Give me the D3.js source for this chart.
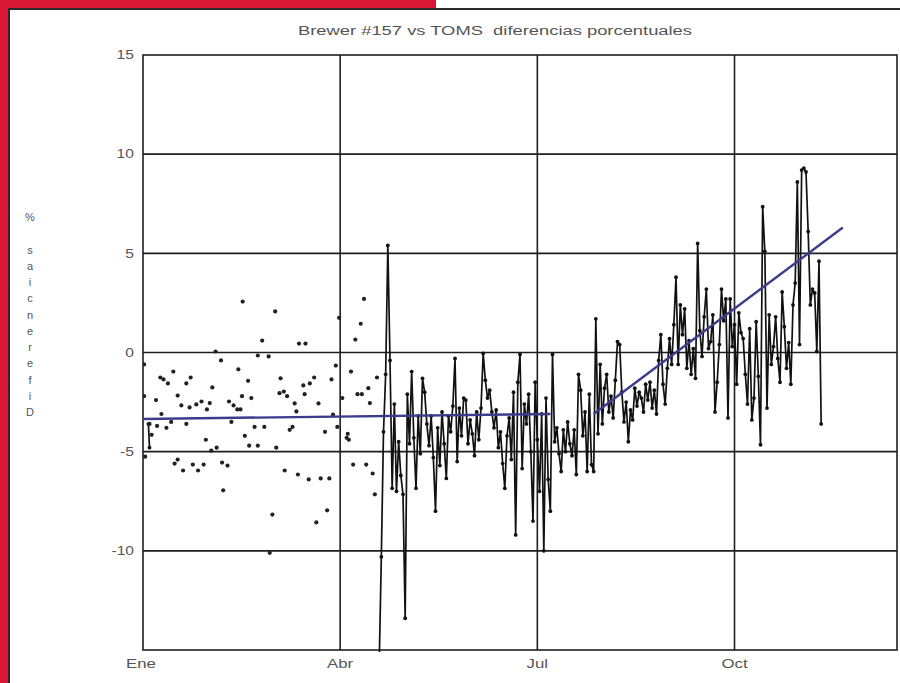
<!DOCTYPE html>
<html>
<head>
<meta charset="utf-8">
<script src="https://cdn.jsdelivr.net/npm/d3@7"></script>
<style>
  body { margin: 0; background: #fff; }
  svg { display: block; }
  text { font-family: "Liberation Sans", Arial, sans-serif; fill: #555; white-space: pre; }
</style>
</head>
<body>
<div id="chart"></div>
<script>
// Month ticks (day of year) and labels
var monthDays = [0, 91, 182, 273];
var monthLabels = ["Ene", "Abr", "Jul", "Oct"];
var yTicks = [-10, -5, 0, 5, 10, 15];

// Scattered daily points, Jan - Apr
var scatterDays = [46, 61, 55, 72, 75, 33.5, 53, 58, 36, 89, 44, 14, 8, 9.5, 11.5, 22, 20, 63.5, 79, 87,
    48.5, 74, 77, 32, 63, 65, 66.5, 74.6, 16, 45.7, 50, 6, 27, 24.6, 21.5, 17.7, 30.8, 29.5, 39.7, 41.8,
    43.5, 45, 70, 81, 70.8, 8.5, 87.7, 3, 6.5, 10.8, 13, 20, 40.8, 51.5, 56, 67.7, 69, 89.7, 84, 4,
    47, 29, 49, 53, 61.5, 31.5, 34, 1, 14.6, 16, 18.5, 23, 25.4, 28, 36.5, 39, 65.4, 71.5, 76.5, 82,
    86, 37, 85, 59.7, 80, 58.5, 90.5, 92, 94.5, 96, 97, 103, 106, 107, 102, 100.5, 98, 108, 104, 99,
    101, 104.7, 94, 95, 0.5, 0.5];
var scatterVals = [2.57, 2.07, 0.6, 0.45, 0.45, 0.05, -0.15, -0.2, -0.4, -0.66, -0.85, -0.96, -1.26, -1.36, -1.56, -1.26, -1.56, -1.3, -1.26, -1.36,
    -1.43, -1.66, -1.56, -1.76, -2.05, -1.97, -2.2, -2.1, -2.17, -2.2, -2.3, -2.4, -2.47, -2.62, -2.77, -2.67, -2.55, -2.87, -2.47, -2.67,
    -2.87, -2.87, -2.57, -2.57, -2.97, -3.1, -3.13, -3.6, -3.7, -3.8, -3.5, -3.6, -3.5, -3.75, -3.75, -3.9, -3.75, -3.75, -4.0, -4.15,
    -4.2, -4.4, -4.7, -4.7, -4.8, -4.95, -4.8, -5.25, -5.6, -5.4, -5.95, -5.65, -5.95, -5.65, -5.55, -5.7, -5.95, -6.15, -6.4, -6.35,
    -6.35, -6.95, -7.96, -8.17, -8.57, -10.1, 1.75, -2.3, -4.1, -0.96, -5.65, -5.65, -6.1, -7.15, 2.7, 1.45, 0.65, -1.26, -1.8, -2.1,
    -2.1, -2.55, -4.3, -4.4, -0.6, -2.2];

// Short joined segment at the very start of the year
var startDays = [2.5, 3];
var startVals = [-3.6, -4.8];

// Joined daily series, late April - mid November
var lineDays = [109, 110, 111, 112, 113, 114, 115, 116, 117, 118, 119, 120, 121, 122, 123, 124, 125, 126, 127, 128,
    129, 130, 131, 132, 133, 134, 135, 136, 137, 138, 139, 140, 141, 142, 143, 144, 145, 146, 147, 148,
    149, 150, 151, 152, 153, 154, 155, 156, 157, 158, 159, 160, 161, 162, 163, 164, 165, 166, 167, 168,
    169, 170, 171, 172, 173, 174, 175, 176, 177, 178, 179, 180, 181, 182, 183, 184, 185, 186, 187, 188,
    189, 190, 191, 192, 193, 194, 195, 196, 197, 198, 199, 200, 201, 202, 203, 204, 205, 206, 207, 208,
    209, 210, 211, 212, 213, 214, 215, 216, 217, 218, 219, 220, 221, 222, 223, 224, 225, 226, 227, 228,
    229, 230, 231, 232, 233, 234, 235, 236, 237, 238, 239, 240, 241, 242, 243, 244, 245, 246, 247, 248,
    249, 250, 251, 252, 253, 254, 255, 256, 257, 258, 259, 260, 261, 262, 263, 264, 265, 266, 267, 268,
    269, 270, 271, 272, 273, 274, 275, 276, 277, 278, 279, 280, 281, 282, 283, 284, 285, 286, 287, 288,
    289, 290, 291, 292, 293, 294, 295, 296, 297, 298, 299, 300, 301, 302, 303, 304, 305, 306, 307, 308,
    309, 310, 311, 312, 313];
var lineVals = [-15.8, -10.3, -4.0, -1.1, 5.4, -0.4, -6.85, -2.6, -7.0, -4.5, -6.2, -7.15, -13.4, -2.1, -4.6, -0.96, -4.3, -6.85, -3.2, -5.1,
    -1.3, -2.0, -3.6, -4.7, -3.2, -5.3, -8.0, -3.8, -5.7, -3.0, -4.6, -6.35, -3.2, -4.0, -2.7, -0.3, -5.5, -2.8, -4.2, -2.3,
    -2.4, -4.6, -3.4, -4.1, -5.2, -3.0, -4.4, -2.8, -0.05, -1.4, -2.3, -1.9, -3.0, -3.8, -2.9, -4.8, -4.0, -5.6, -6.85, -4.2,
    -3.3, -5.4, -2.0, -9.2, -1.5, -0.1, -5.85, -2.6, -3.6, -2.1, -5.0, -8.5, -1.5, -4.4, -7.0, -3.1, -10.0, -2.3, -6.4, -8.0,
    -0.1, -4.5, -3.8, -5.1, -6.0, -3.9, -5.0, -3.5, -4.6, -5.2, -3.9, -6.15, -1.1, -1.9, -4.2, -3.0, -6.0, -2.1, -5.65, -6.0,
    1.7, -4.1, -0.6, -3.6, -1.8, -1.1, -3.0, -2.2, -3.3, -1.4, 0.55, 0.4, -2.0, -3.5, -2.5, -4.5, -2.9, -3.4, -1.8, -2.7,
    -2.0, -2.3, -3.0, -1.6, -2.4, -1.5, -2.8, -1.9, -3.1, -0.4, 0.9, -1.6, -2.6, -0.8, 0.7, -0.6, 1.4, 3.8, -0.6, 2.4,
    0.9, 2.2, -0.8, 0.6, -1.1, 0.2, -1.3, 5.5, 1.1, -0.2, 1.8, 3.2, 0.2, 0.55, 1.9, -3.0, -1.5, 0.4, 3.2, 1.6,
    2.7, -3.3, 2.7, 0.3, 1.4, -1.6, 2.0, 1.0, 0.7, -1.1, -2.6, 1.2, -3.4, -2.3, 1.55, -1.2, -4.65, 7.35, 5.1, -2.8,
    1.9, -0.6, 0.3, 1.8, -0.3, -1.5, 3.05, 1.3, -0.8, 0.5, -1.6, 2.4, 3.5, 8.6, 0.4, 9.2, 9.3, 9.1, 6.1, 2.4,
    3.2, 3.0, 0.05, 4.6, -3.6];

// Fitted trend lines (end points)
var trend1Days = [0, 188];
var trend1Vals = [-3.35, -3.1];
var trend2Days = [208, 323];
var trend2Vals = [-3.1, 6.3];

// Svg dimensions and plot box
var svgWidth = 900;
var svgHeight = 683;
var plot = { left: 143, right: 897, top: 55, bottom: 650 };

var svg = d3.select("#chart")
    .append("svg")
    .attr("width", svgWidth)
    .attr("height", svgHeight);

// Page frame: red band and dark rule
svg.append("rect").attr("x", 0).attr("y", 0).attr("width", 8).attr("height", svgHeight).attr("fill", "#d81736");
svg.append("rect").attr("x", 0).attr("y", 0).attr("width", 436).attr("height", 8).attr("fill", "#d81736");
svg.append("line").attr("x1", 9).attr("x2", 9).attr("y1", 8).attr("y2", svgHeight)
    .attr("stroke", "#2b2b2b").attr("stroke-width", 2);
svg.append("line").attr("x1", 8).attr("x2", svgWidth).attr("y1", 9).attr("y2", 9)
    .attr("stroke", "#2b2b2b").attr("stroke-width", 2);

// Scales
var x = d3.scaleLinear().domain([0, 348]).range([plot.left, plot.right]);
var y = d3.scaleLinear().domain([-15, 15]).range([plot.bottom, plot.top]);

// Stretch text horizontally like the wide original face
function stretch(sel, factor) {
    sel.each(function() {
        var w = this.getComputedTextLength();
        d3.select(this).attr("textLength", w * factor).attr("lengthAdjust", "spacingAndGlyphs");
    });
}

// Grid lines
var grid = svg.append("g").attr("stroke", "#1e1e1e").attr("stroke-width", 1.6);
grid.selectAll(".hgrid")
    .data([-10, -5, 0, 5, 10])
    .enter()
    .append("line")
    .attr("x1", plot.left).attr("x2", plot.right)
    .attr("y1", d => y(d)).attr("y2", d => y(d));
grid.selectAll(".vgrid")
    .data(monthDays.slice(1))
    .enter()
    .append("line")
    .attr("x1", d => x(d)).attr("x2", d => x(d))
    .attr("y1", plot.top).attr("y2", plot.bottom);
grid.append("rect")
    .attr("x", plot.left).attr("y", plot.top)
    .attr("width", plot.right - plot.left).attr("height", plot.bottom - plot.top)
    .attr("fill", "none");

// Clip for the data
svg.append("clipPath").attr("id", "clip")
    .append("rect")
    .attr("x", plot.left).attr("y", plot.top - 2)
    .attr("width", plot.right - plot.left).attr("height", plot.bottom - plot.top + 4);

var dataGroup = svg.append("g").attr("clip-path", "url(#clip)");

// Joined series
var lineGen = d3.line().x(d => x(d[0])).y(d => y(d[1]));
var linePts = d3.zip(lineDays, lineVals);
var startPts = d3.zip(startDays, startVals);

[startPts, linePts].forEach(function(pts) {
    dataGroup.append("path")
        .datum(pts)
        .attr("d", lineGen)
        .attr("fill", "none")
        .attr("stroke", "#111")
        .attr("stroke-width", 1.7)
        .attr("stroke-linejoin", "round");
});

dataGroup.selectAll(".linePt")
    .data(linePts.concat(startPts))
    .enter()
    .append("circle")
    .attr("cx", d => x(d[0]))
    .attr("cy", d => y(d[1]))
    .attr("r", 1.9)
    .attr("fill", "#111");

// Scattered points
dataGroup.selectAll(".dot")
    .data(d3.zip(scatterDays, scatterVals))
    .enter()
    .append("circle")
    .attr("cx", d => x(d[0]))
    .attr("cy", d => y(d[1]))
    .attr("r", 2.1)
    .attr("fill", "#222");

// Trend lines
[d3.zip(trend1Days, trend1Vals), d3.zip(trend2Days, trend2Vals)].forEach(function(pts) {
    dataGroup.append("path")
        .datum(pts)
        .attr("d", lineGen)
        .attr("fill", "none")
        .attr("stroke", "#3c3c8e")
        .attr("stroke-width", 2.4);
});

// Y tick labels
var yLabels = svg.append("g").selectAll("text")
    .data(yTicks)
    .enter()
    .append("text")
    .attr("x", 134)
    .attr("y", d => y(d))
    .attr("dy", "0.35em")
    .attr("text-anchor", "end")
    .attr("font-size", "12px")
    .text(d => d);
stretch(yLabels, 1.3);

// X tick labels
var xLabels = svg.append("g").selectAll("text")
    .data(monthDays)
    .enter()
    .append("text")
    .attr("x", (d, i) => x(d) - (i === 0 ? 2 : 0))
    .attr("y", 668)
    .attr("text-anchor", "middle")
    .attr("font-size", "12px")
    .text((d, i) => monthLabels[i]);
stretch(xLabels, 1.4);

// Title
var title = svg.append("text")
    .attr("x", 495)
    .attr("y", 35)
    .attr("text-anchor", "middle")
    .attr("font-size", "12px")
    .text("Brewer #157 vs TOMS  diferencias porcentuales");
title.attr("textLength", 394).attr("lengthAdjust", "spacingAndGlyphs");

// Y axis label, letters stacked one under the other
var yTitle = "% saicnerefiD".split("");
svg.append("g").selectAll("text")
    .data(yTitle)
    .enter()
    .append("text")
    .attr("x", 30)
    .attr("y", (d, i) => 221 + i * 16.25)
    .attr("text-anchor", "middle")
    .attr("font-size", "11px")
    .text(d => d);
</script>
</body>
</html>
